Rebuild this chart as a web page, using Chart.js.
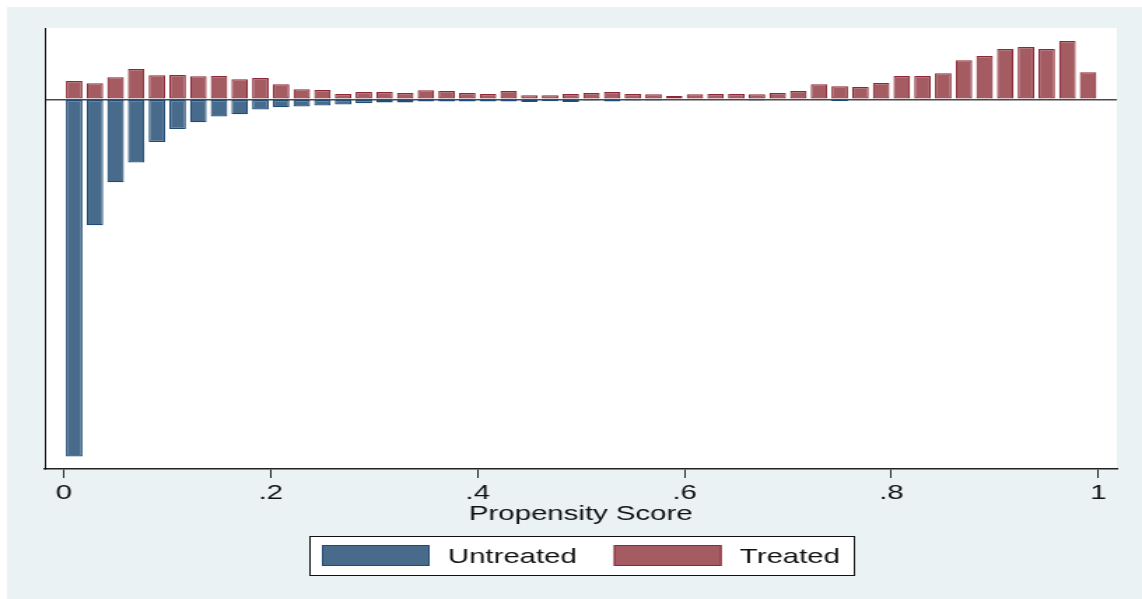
<!DOCTYPE html>
<html lang="en">
<head>
<meta charset="UTF-8">
<title>Propensity Score</title>
<script src="https://cdn.jsdelivr.net/npm/chart.js"></script>
<style>
  html, body { margin: 0; padding: 0; background: #ffffff; }
  #chart { display: block; }
</style>
</head>
<body>
<!-- drawn at 816 wide and stretched to 1142, like the exported original -->
<canvas id="chart" width="816" height="599" style="width:1142px;height:599px"></canvas>
<script>
// bin midpoints of the propensity score (bins of width .02)
const binCenters = [
  0.01, 0.03, 0.05, 0.07, 0.09, 0.11, 0.13, 0.15, 0.17, 0.19,
  0.21, 0.23, 0.25, 0.27, 0.29, 0.31, 0.33, 0.35, 0.37, 0.39,
  0.41, 0.43, 0.45, 0.47, 0.49, 0.51, 0.53, 0.55, 0.57, 0.59,
  0.61, 0.63, 0.65, 0.67, 0.69, 0.71, 0.73, 0.75, 0.77, 0.79,
  0.81, 0.83, 0.85, 0.87, 0.89, 0.91, 0.93, 0.95, 0.97, 0.99
];

// treated counts (drawn above zero)
const treated = [
  1.83, 1.60, 2.20, 3.03, 2.40, 2.43, 2.30, 2.33, 2.00, 2.13,
  1.50, 1.00, 0.93, 0.53, 0.73, 0.73, 0.63, 0.90, 0.83, 0.63,
  0.53, 0.83, 0.40, 0.40, 0.53, 0.63, 0.73, 0.53, 0.50, 0.33,
  0.50, 0.53, 0.53, 0.50, 0.63, 0.83, 1.50, 1.30, 1.23, 1.63,
  2.33, 2.33, 2.60, 3.90, 4.33, 5.03, 5.23, 5.03, 5.83, 2.70
];

// untreated counts (drawn below zero)
const untreated = [
  35.74, 12.60, 8.30, 6.33, 4.27, 2.97, 2.30, 1.73, 1.50, 1.03,
  0.80, 0.73, 0.63, 0.53, 0.40, 0.33, 0.33, 0.23, 0.23, 0.23,
  0.23, 0.23, 0.27, 0.20, 0.27, 0.13, 0.23, 0.13, 0.13, 0.07,
  0.05, 0.05, 0.05, 0.13, 0.05, 0.05, 0.03, 0.17, 0.03, 0.03,
  0.02, 0.02, 0.02, 0.02, 0.02, 0.02, 0.02, 0.02, 0.02, 0.00
];

const xTicks = [0, 0.2, 0.4, 0.6, 0.8, 1];
const xTickLabels = ['0', '.2', '.4', '.6', '.8', '1'];

const FONT = '"Liberation Sans", Arial, Helvetica, sans-serif';

// light frame around a white plot region
const backdrop = {
  id: 'backdrop',
  beforeDraw(chart) {
    const { ctx, width, height, chartArea: a } = chart;
    ctx.save();
    ctx.fillStyle = '#ffffff';
    ctx.fillRect(0, 0, width, height);
    ctx.fillStyle = '#EAF2F3';
    ctx.fillRect(5, 7, width - 5, height - 7);
    ctx.fillStyle = '#ffffff';
    ctx.fillRect(a.left, a.top, a.right - a.left, a.bottom - a.top);
    ctx.restore();
  }
};

// Stata-like boxed legend under the axis title
const boxLegend = {
  id: 'boxLegend',
  afterDraw(chart) {
    const ctx = chart.ctx;
    const x0 = 221, y0 = 536, w = 389, h = 39;
    ctx.save();
    ctx.fillStyle = '#ffffff';
    ctx.fillRect(x0, y0, w, h);
    ctx.strokeStyle = '#111111';
    ctx.lineWidth = 1;
    ctx.strokeRect(x0 + 0.5, y0 + 0.5, w, h);
    ctx.font = '21px ' + FONT;
    ctx.textBaseline = 'middle';
    chart.data.datasets.forEach((ds, i) => {
      const sx = x0 + 9 + i * 208.6;
      ctx.fillStyle = ds.backgroundColor;
      ctx.fillRect(sx, y0 + 9, 77, 21);
      ctx.strokeStyle = ds.borderColor;
      ctx.strokeRect(sx + 0.5, y0 + 9.5, 76, 20);
      ctx.fillStyle = '#111111';
      ctx.fillText(ds.label, sx + 90, y0 + 21);
    });
    ctx.restore();
  }
};

new Chart(document.getElementById('chart'), {
  type: 'bar',
  data: {
    datasets: [
      {
        label: 'Untreated',
        data: binCenters.map((x, i) => ({ x: x, y: -untreated[i] })),
        backgroundColor: '#486B8C',
        borderColor: '#1F4C75',
        borderWidth: 1.2,
        borderSkipped: false
      },
      {
        label: 'Treated',
        data: binCenters.map((x, i) => ({ x: x, y: treated[i] })),
        backgroundColor: '#A45B61',
        borderColor: '#8B2A36',
        borderWidth: 1.2,
        borderSkipped: false
      }
    ]
  },
  options: {
    responsive: false,
    animation: false,
    devicePixelRatio: 1,
    categoryPercentage: 1,
    barPercentage: 0.8,
    layout: { padding: { left: 32, right: 18, top: 28, bottom: 0 } },
    plugins: {
      legend: { display: false },
      tooltip: { enabled: false }
    },
    scales: {
      x: {
        type: 'linear',
        stacked: true,
        offset: false,
        min: -0.0184,
        max: 1.0178,
        afterFit: s => { s.height = 130; },
        afterBuildTicks: s => { s.ticks = xTicks.map(v => ({ value: v })); },
        ticks: {
          padding: 3,
          color: '#111111',
          font: { family: FONT, size: 21 },
          callback: (v, i) => xTickLabels[i]
        },
        grid: {
          offset: false,
          drawOnChartArea: false,
          drawTicks: true,
          tickLength: 9,
          color: '#222222',
          lineWidth: 1
        },
        border: { display: true, color: '#222222', width: 1.5 },
        title: {
          display: true,
          text: 'Propensity Score',
          color: '#111111',
          font: { family: FONT, size: 21 },
          padding: { top: 0, bottom: 72 }
        }
      },
      y: {
        stacked: true,
        min: -37.0,
        max: 7.13,
        z: 1,
        afterFit: s => { s.width = 0; },
        afterBuildTicks: s => { s.ticks = [{ value: 0 }]; },
        ticks: { display: false },
        grid: { drawTicks: false, color: '#4a4a4a', lineWidth: 1.5 },
        border: { display: true, color: '#111111', width: 1 }
      }
    }
  },
  plugins: [backdrop, boxLegend]
});
</script>
</body>
</html>
